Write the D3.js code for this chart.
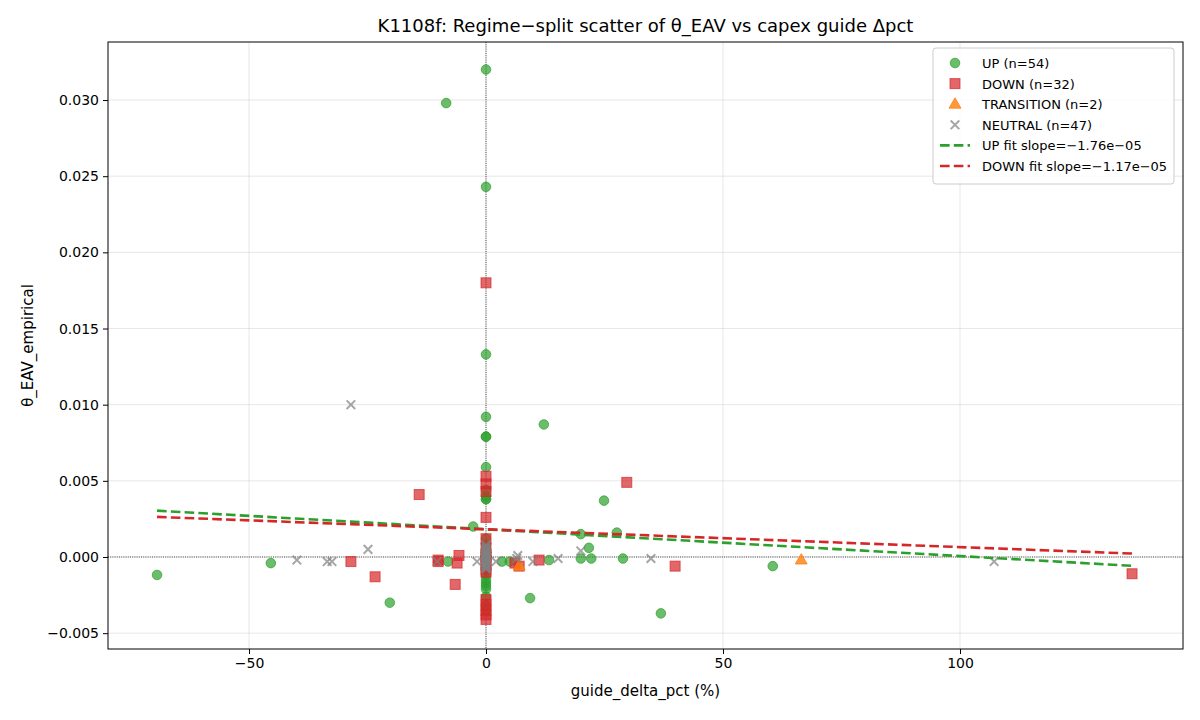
<!DOCTYPE html>
<html>
<head>
<meta charset="utf-8">
<script src="https://cdn.jsdelivr.net/npm/d3@7"></script>
<style>
  body { margin: 0; background: #fff; }
  text { font-family: "DejaVu Sans", "Liberation Sans", sans-serif; }
</style>
</head>
<body>
<div id="chart"></div>
<script>
// values
var upX = [-69.4, -45.4, -8.4, -20.3, -2.7, -8.0, 3.4, 5.0, 12.2, 13.3, 20.0, 20.0, 21.7, 22.2, 24.9, 27.6, 28.9, 36.9, 60.5, 9.3,
  0, 0, 0, 0, 0, 0, 0, 0, 0, 0, 0, 0, 0, 0, 0, 0, 0, 0, 0, 0, 0, 0, 0, 0, 0, 0, 0, 0, 0, 0, 0, 0, 0, 0];
var upY = [-0.00118, -0.0004, 0.0298, -0.0030, 0.0020, -0.0003, -0.0003, -0.0003, 0.0087, -0.0002, 0.0015, -0.0001, 0.0006, -0.0001, 0.0037, 0.0016, -0.0001, -0.0037, -0.0006, -0.0027,
  0.0320, 0.0243, 0.0133, 0.0092, 0.0079, 0.0079, 0.0059, 0.0044, 0.0040, 0.0038, 0.0038, 0.0012, 0.0008, 0.0005, 0.0003, 0.0002, 0.0001, 0.0, 0.0, 0.0,
  -0.0001, -0.0002, -0.0003, -0.0005, -0.0008, -0.0012, -0.0015, -0.0017, -0.0019, -0.0021, -0.0026, -0.0032, -0.0035, 0.0];

var downX = [-28.5, -23.4, -14.1, -10.1, -10.1, -6.5, -6.1, -5.7, 6.1, 7.0, 11.2, 29.7, 39.9, 136.3,
  0, 0, 0, 0, 0, 0, 0, 0, 0, 0, 0, 0, 0, 0, 0, 0, 0, 0];
var downY = [-0.0003, -0.0013, 0.0041, -0.0003, -0.0002, -0.0018, -0.0004, 0.0001, -0.0004, -0.0006, -0.0002, 0.0049, -0.0006, -0.0011,
  0.0180, 0.0053, 0.0048, 0.0043, 0.0026, 0.0012, 0.0006, 0.0002, 0.0, -0.0002, -0.0005, -0.0008, -0.0010, -0.0028, -0.0031, -0.0035, -0.0038, -0.0041];

var transX = [66.5, 7.0];
var transY = [-0.0002, -0.0006];

var neutX = [-28.5, -39.9, -33.5, -32.5, -24.9, -10.3, -1.9, 2.1, 6.5, 6.7, 9.9, 15.2, 20.0, 34.8, 107.2,
  0, 0, 0, 0, 0, 0, 0, 0, 0, 0, 0, 0, 0, 0, 0, 0, 0, 0, 0, 0, 0, 0, 0, 0, 0, 0, 0, 0, 0, 0, 0, 0];
var neutY = [0.0100, -0.0002, -0.0003, -0.0003, 0.0005, -0.0003, -0.0003, -0.0003, -0.0001, 0.0001, -0.0003, -0.0001, 0.0004, -0.0001, -0.0003,
  0.0008, 0.0007, 0.0006, 0.0005, 0.0004, 0.0004, 0.0003, 0.0003, 0.0002, 0.0002, 0.0001, 0.0001, 0.0, 0.0, 0.0, 0.0,
  -0.0001, -0.0001, -0.0002, -0.0002, -0.0003, -0.0003, -0.0004, -0.0004, -0.0005, -0.0005, -0.0006, -0.0006, -0.0007, -0.0007, -0.0008, -0.0002];

// fit lines: slope, intercept, x range
var upFit = {slope: -1.76e-05, intercept: 0.00182, x0: -69.4, x1: 136.3};
var downFit = {slope: -1.17e-05, intercept: 0.00182, x0: -69.4, x1: 136.3};

var xTicks = [-50, 0, 50, 100];
var yTicks = [-0.005, 0.000, 0.005, 0.010, 0.015, 0.020, 0.025, 0.030];

var width = 1200, height = 720;
var mLeft = 108, mRight = 1183, mTop = 42, mBottom = 649;

var svg = d3.select("#chart").append("svg")
  .attr("width", width)
  .attr("height", height);

var x = d3.scaleLinear().domain([-79.75, 147.05]).range([mLeft, mRight]);
var y = d3.scaleLinear().domain([-0.00604, 0.03381]).range([mBottom, mTop]);

// grid
svg.append("g").selectAll("line").data(xTicks).enter().append("line")
  .attr("x1", d => x(d)).attr("x2", d => x(d))
  .attr("y1", mTop).attr("y2", mBottom)
  .style("stroke", "#b0b0b0").style("stroke-opacity", 0.3).style("stroke-width", 1);
svg.append("g").selectAll("line").data(yTicks).enter().append("line")
  .attr("y1", d => y(d)).attr("y2", d => y(d))
  .attr("x1", mLeft).attr("x2", mRight)
  .style("stroke", "#b0b0b0").style("stroke-opacity", 0.3).style("stroke-width", 1);

// zero lines
svg.append("line")
  .attr("x1", mLeft).attr("x2", mRight).attr("y1", y(0)).attr("y2", y(0))
  .style("stroke", "#000").style("stroke-width", 0.7).style("stroke-dasharray", "1,1.2");
svg.append("line")
  .attr("x1", x(0)).attr("x2", x(0)).attr("y1", mTop).attr("y2", mBottom)
  .style("stroke", "#000").style("stroke-width", 0.7).style("stroke-dasharray", "1,1.2");

var pts = svg.append("g");

// UP
pts.selectAll(".up").data(d3.range(upX.length)).enter().append("circle")
  .attr("class", "up")
  .attr("cx", i => x(upX[i])).attr("cy", i => y(upY[i]))
  .attr("r", 4.8)
  .style("fill", "#2ca02c").style("fill-opacity", 0.7)
  .style("stroke", "#2ca02c").style("stroke-opacity", 0.7).style("stroke-width", 1);

// DOWN
pts.selectAll(".down").data(d3.range(downX.length)).enter().append("rect")
  .attr("class", "down")
  .attr("x", i => x(downX[i]) - 5).attr("y", i => y(downY[i]) - 5)
  .attr("width", 10).attr("height", 10)
  .style("fill", "#d62728").style("fill-opacity", 0.7)
  .style("stroke", "#d62728").style("stroke-opacity", 0.7).style("stroke-width", 1);

// TRANSITION
var tri = d3.symbol().type(d3.symbolTriangle).size(62);
pts.selectAll(".trans").data(d3.range(transX.length)).enter().append("path")
  .attr("class", "trans")
  .attr("d", tri)
  .attr("transform", i => "translate(" + x(transX[i]) + "," + (y(transY[i]) + 0.5) + ")")
  .style("fill", "#ff7f0e").style("fill-opacity", 0.8)
  .style("stroke", "#ff7f0e").style("stroke-opacity", 0.8).style("stroke-width", 1);

// NEUTRAL
var cross = d3.symbol().type(d3.symbolX).size(50);
pts.selectAll(".neut").data(d3.range(neutX.length)).enter().append("path")
  .attr("class", "neut")
  .attr("d", cross)
  .attr("transform", i => "translate(" + x(neutX[i]) + "," + y(neutY[i]) + ")")
  .style("fill", "none")
  .style("stroke", "#808080").style("stroke-opacity", 0.7).style("stroke-width", 2);

// fit lines
function fitLine(f, color) {
  var xs = [f.x0, f.x1];
  svg.append("path")
    .datum(xs)
    .attr("d", d3.line().x(d => x(d)).y(d => y(f.intercept + f.slope * d)))
    .style("fill", "none")
    .style("stroke", color)
    .style("stroke-width", 2.6)
    .style("stroke-dasharray", "9.6,4.2");
}
fitLine(upFit, "#2ca02c");
fitLine(downFit, "#d62728");

// axes
var xAxis = d3.axisBottom(x).tickValues(xTicks).tickSize(5).tickPadding(4).tickFormat(d3.format("d"));
var yAxis = d3.axisLeft(y).tickValues(yTicks).tickSize(5).tickPadding(4).tickFormat(d3.format(".3f"));

var gx = svg.append("g").attr("transform", "translate(0," + mBottom + ")").call(xAxis);
var gy = svg.append("g").attr("transform", "translate(" + mLeft + ",0)").call(yAxis);
[gx, gy].forEach(function(g) {
  g.select(".domain").remove();
  g.selectAll("text").style("font-size", "14px").style("fill", "#000")
    .style("font-family", "'DejaVu Sans', sans-serif");
  g.selectAll("line").style("stroke", "#000");
});

// frame
svg.append("rect")
  .attr("x", mLeft).attr("y", mTop)
  .attr("width", mRight - mLeft).attr("height", mBottom - mTop)
  .style("fill", "none").style("stroke", "#000").style("stroke-width", 1);

// title + labels
svg.append("text")
  .attr("x", (mLeft + mRight) / 2).attr("y", 32)
  .attr("text-anchor", "middle")
  .style("font-size", "18px")
  .text("K1108f: Regime\u2212split scatter of \u03b8_EAV vs capex guide \u0394pct");

svg.append("text")
  .attr("x", (mLeft + mRight) / 2).attr("y", 696)
  .attr("text-anchor", "middle")
  .style("font-size", "15px")
  .text("guide_delta_pct (%)");

svg.append("text")
  .attr("transform", "translate(33," + ((mTop + mBottom) / 2) + ") rotate(-90)")
  .attr("text-anchor", "middle")
  .style("font-size", "15px")
  .text("\u03b8_EAV_empirical");

// legend
var lg = svg.append("g").attr("transform", "translate(933,48)");
lg.append("rect")
  .attr("width", 241).attr("height", 136)
  .attr("rx", 3).attr("ry", 3)
  .style("fill", "#fff").style("fill-opacity", 0.8)
  .style("stroke", "#cccccc").style("stroke-width", 1);

var legendRows = [
  {label: "UP (n=54)", kind: "circle", color: "#2ca02c"},
  {label: "DOWN (n=32)", kind: "square", color: "#d62728"},
  {label: "TRANSITION (n=2)", kind: "triangle", color: "#ff7f0e"},
  {label: "NEUTRAL (n=47)", kind: "x", color: "#808080"},
  {label: "UP fit slope=\u22121.76e\u221205", kind: "line", color: "#2ca02c"},
  {label: "DOWN fit slope=\u22121.17e\u221205", kind: "line", color: "#d62728"}
];

legendRows.forEach(function(r, i) {
  var cy = 15 + i * 20.6;
  var mx = 22;
  if (r.kind == "circle") {
    lg.append("circle").attr("cx", mx).attr("cy", cy).attr("r", 4.8)
      .style("fill", r.color).style("fill-opacity", 0.7)
      .style("stroke", r.color).style("stroke-opacity", 0.7);
  } else if (r.kind == "square") {
    lg.append("rect").attr("x", mx - 5).attr("y", cy - 5).attr("width", 10).attr("height", 10)
      .style("fill", r.color).style("fill-opacity", 0.7)
      .style("stroke", r.color).style("stroke-opacity", 0.7);
  } else if (r.kind == "triangle") {
    lg.append("path").attr("d", tri).attr("transform", "translate(" + mx + "," + (cy + 0.5) + ")")
      .style("fill", r.color).style("fill-opacity", 0.8)
      .style("stroke", r.color).style("stroke-opacity", 0.8);
  } else if (r.kind == "x") {
    lg.append("path").attr("d", cross).attr("transform", "translate(" + mx + "," + cy + ")")
      .style("fill", "none").style("stroke", r.color).style("stroke-opacity", 0.7).style("stroke-width", 2);
  } else {
    lg.append("line").attr("x1", 7).attr("x2", 37).attr("y1", cy).attr("y2", cy)
      .style("stroke", r.color).style("stroke-width", 2.6).style("stroke-dasharray", "9.6,4.2");
  }
  lg.append("text")
    .attr("x", 49).attr("y", cy + 5)
    .style("font-size", "13px")
    .text(r.label);
});
</script>
</body>
</html>
